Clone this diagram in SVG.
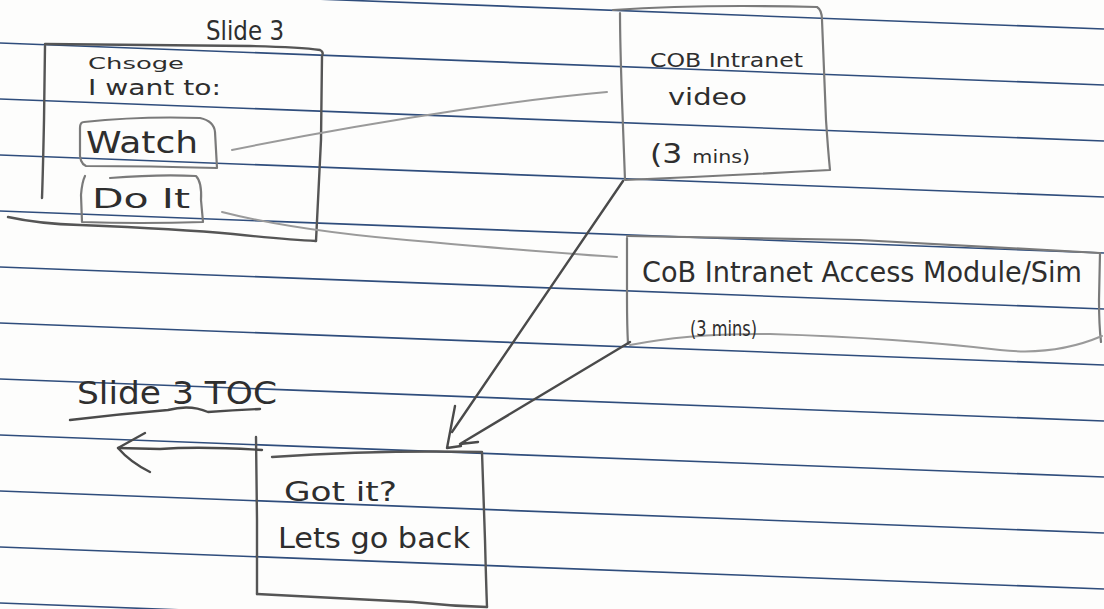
<svg xmlns="http://www.w3.org/2000/svg" width="1104" height="609" viewBox="0 0 1104 609">
<defs>
<style>
.rule{stroke:#2f4d7c;stroke-width:1.6;fill:none}
.pen{fill:none;stroke:#555;stroke-width:2.4;stroke-linecap:round;stroke-linejoin:round}
.light{fill:none;stroke:#7a7a7a;stroke-width:2.2;stroke-linecap:round;stroke-linejoin:round}
.faint{fill:none;stroke:#9a9a9a;stroke-width:2;stroke-linecap:round}
.dark{fill:none;stroke:#4a4a4a;stroke-width:2.4;stroke-linecap:round;stroke-linejoin:round}
.t{font-family:"DejaVu Sans","Liberation Sans",sans-serif;fill:#2e2e2e}
</style>
</defs>
<rect x="0" y="0" width="1104" height="609" fill="#fdfdfc"/>
<g id="paper-lines">
<line class="rule" x1="0" y1="-13" x2="1104" y2="29"/>
<line class="rule" x1="0" y1="43" x2="1104" y2="85"/>
<line class="rule" x1="0" y1="99" x2="1104" y2="141"/>
<line class="rule" x1="0" y1="155" x2="1104" y2="197"/>
<line class="rule" x1="0" y1="211" x2="1104" y2="253"/>
<line class="rule" x1="0" y1="267" x2="1104" y2="309"/>
<line class="rule" x1="0" y1="323" x2="1104" y2="365"/>
<line class="rule" x1="0" y1="379" x2="1104" y2="421"/>
<line class="rule" x1="0" y1="435" x2="1104" y2="477"/>
<line class="rule" x1="0" y1="491" x2="1104" y2="533"/>
<line class="rule" x1="0" y1="547" x2="1104" y2="589"/>
<line class="rule" x1="0" y1="603" x2="1104" y2="645"/>
</g>
<g id="slide3">
<text class="t" x="206" y="40" font-size="27" textLength="78" lengthAdjust="spacingAndGlyphs">Slide 3</text>
<path class="pen" d="M45,44 Q150,45 250,46 Q300,47 320,50 Q324,52 322,56 L321,140 Q318,200 316,241"/>
<path class="pen" d="M45,46 L44,120 Q43,170 42,198"/>
<path class="pen" d="M8,217 Q40,224 80,225 Q180,229 233,234 Q290,240 316,241"/>
<text class="t" x="88" y="69" font-size="16" textLength="96" lengthAdjust="spacingAndGlyphs">Chsoge</text>
<text class="t" x="88" y="95" font-size="21" textLength="133" lengthAdjust="spacingAndGlyphs">I want to:</text>
</g>
<g id="watch">
<path class="light" d="M84,122 Q140,116 200,118 Q214,121 215,132 L217,168 Q150,166 86,166 Q79,163 80,150 L80,128 Q80,122 84,122"/>
<text class="t" x="86" y="153" font-size="31" textLength="112" lengthAdjust="spacingAndGlyphs">Watch</text>
</g>
<g id="doit">
<path class="light" d="M110,178 Q160,174 196,176 Q202,182 201,200 L203,222 Q140,224 82,222 L81,195 Q82,182 85,176"/>
<text class="t" x="92" y="208" font-size="27" textLength="98" lengthAdjust="spacingAndGlyphs">Do It</text>
</g>
<g id="cob-video">
<path class="light" d="M613,10 Q700,4 817,7 Q822,10 822,20 L826,120 Q828,150 830,170 Q720,176 625,180 L622,100 Q620,40 620,13"/>
<text class="t" x="650" y="67" font-size="19" textLength="153" lengthAdjust="spacingAndGlyphs">COB Intranet</text>
<text class="t" x="668" y="105" font-size="23" textLength="79" lengthAdjust="spacingAndGlyphs">video</text>
<text class="t" x="650" y="163" font-size="26" textLength="100" lengthAdjust="spacingAndGlyphs">(3 <tspan font-size="17">mins)</tspan></text>
</g>
<g id="cob-access">
<path class="light" d="M627,236 Q740,238 860,240 Q980,246 1100,253 L1099,300 Q1099,325 1101,342"/>
<path class="light" d="M627,238 L627,300 Q627,325 628,344"/>
<path class="faint" d="M630,345 Q690,333 770,334 Q900,338 1000,350 Q1055,356 1102,336"/>
<text class="t" x="642" y="282" font-size="28" textLength="440" lengthAdjust="spacingAndGlyphs">CoB Intranet Access Module/Sim</text>
<text class="t" x="690" y="336" font-size="21" textLength="67" lengthAdjust="spacingAndGlyphs">(3 mins)</text>
</g>
<g id="slide3-toc">
<text class="t" x="77" y="404" font-size="32" textLength="200" lengthAdjust="spacingAndGlyphs">Slide 3 TOC</text>
<path class="dark" d="M70,420 Q120,414 168,410 Q190,404 208,412 Q235,410 260,409"/>
</g>
<g id="got-it">
<path class="pen" d="M256,437 L257,520 Q257,560 257,594"/>
<path class="pen" d="M272,457 Q380,450 482,452 L485,540 Q486,580 487,607"/>
<path class="pen" d="M257,594 Q340,598 413,602 Q450,606 487,607"/>
<text class="t" x="284" y="501" font-size="27" textLength="113" lengthAdjust="spacingAndGlyphs">Got it?</text>
<text class="t" x="278" y="548" font-size="28" textLength="192" lengthAdjust="spacingAndGlyphs">Lets go back</text>
</g>
<g id="connectors">
<path class="faint" d="M232,150 Q340,128 460,110 Q540,98 607,92"/>
<path class="faint" d="M222,212 Q300,232 430,242 Q540,252 617,257"/>
<path class="dark" d="M623,181 Q545,295 452,432"/>
<path class="dark" d="M455,406 L447,448 L461,446"/>
<path class="dark" d="M630,342 L460,444 L478,442"/>
<path class="dark" d="M262,450 Q200,446 160,449 L118,448"/>
<path class="dark" d="M145,433 L118,448 Q130,462 150,472"/>
</g>
</svg>
